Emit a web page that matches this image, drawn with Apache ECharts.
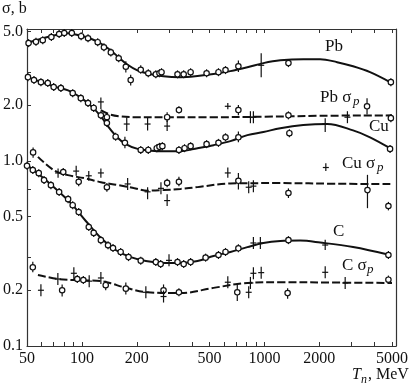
<!DOCTYPE html>
<html><head><meta charset="utf-8">
<script src="https://cdn.jsdelivr.net/npm/echarts@6/dist/echarts.min.js"></script>
<style>html,body{margin:0;padding:0;background:#fff}#c{width:415px;height:388px}</style>
</head><body><div id="c"></div>
<script>
// ---- axis ticks / labels ----
const xTickValues = [50,60,70,80,90,100,200,300,400,500,600,700,800,900,1000,2000,3000,4000,5000];
const xLabelValues = [50,100,200,500,1000,2000,5000];
const yTickValues = [0.1,0.2,0.3,0.5,0.7,1,2,3,5];
const yLabelValues = [0.1,0.2,0.5,1,2,5];
const yLabelTexts = ['0.1','0.2','0.5','1.0','2.0','5.0'];

// ---- fitted curves [T (MeV), sigma (b)] ----
const pbCurve = [[50,4.32],[61,4.59],[75,4.83],[84,4.89],[99,4.73],[112,4.56],[127,4.30],[144,3.94],[159,3.62],[178,3.30],[200,3.09],[229,2.96],[280,2.86],[347,2.83],[430,2.87],[526,2.94],[651,3.05],[806,3.20],[987,3.37],[1222,3.49],[1632,3.54],[2022,3.54],[2503,3.41],[3061,3.24],[3791,3.01],[4880,2.66]];
const pbSpCurve = [[127,1.88],[140,1.79],[160,1.74],[200,1.72],[300,1.72],[500,1.72],[1000,1.73],[2000,1.75],[5000,1.76]];
const cuCurve = [[50,2.83],[60,2.66],[70,2.52],[84,2.40],[98,2.20],[112,1.98],[127,1.74],[140,1.52],[155,1.35],[172,1.24],[202,1.16],[240,1.135],[280,1.128],[347,1.128],[430,1.17],[526,1.215],[651,1.277],[806,1.376],[987,1.43],[1222,1.50],[1632,1.56],[2208,1.58],[3061,1.46],[3791,1.34],[4880,1.17]];
const cuSpCurve = [[57.4,1.05],[70.2,0.89],[83.8,0.837],[102.4,0.807],[127,0.767],[157,0.740],[192,0.713],[229,0.690],[280,0.695],[347,0.705],[430,0.721],[651,0.755],[1222,0.758],[2500,0.752],[5000,0.749]];
const cCurve = [[50,0.948],[59.6,0.827],[72,0.704],[87,0.591],[105,0.473],[127,0.383],[153,0.330],[185,0.302],[224,0.288],[280,0.281],[347,0.281],[430,0.288],[526,0.306],[651,0.322],[806,0.342],[987,0.360],[1222,0.369],[1570,0.371],[2022,0.362],[3061,0.342],[4880,0.310]];
const cSpCurve = [[57.4,0.242],[73.8,0.230],[90.3,0.227],[127,0.224],[144,0.218],[169,0.208],[229,0.195],[347,0.193],[526,0.206],[806,0.219],[1222,0.221],[2500,0.220],[5000,0.219]];

// ---- measured points [T, sigma, (low), (high)] ----
const pbCircles = [[51,4.32],[56,4.39],[61,4.48],[68,4.66],[75,4.84],[80,4.90],[88,4.90],[99,4.71],[108,4.59],[122,4.37],[132,4.10],[144,3.85],[159,3.58],[174,3.22,3.00,3.45],[185,2.73,2.55,2.92],[210,3.10,2.95,3.28],[231,2.97],[254,2.93],[266,2.97],[273,3.01],[334,2.93],[361,2.93],[394,3.01],[482,2.97],[560,3.01],[612,3.09],[720,3.24,3.02,3.48],[1354,3.37],[4930,2.66]];
const pbCrosses = [[960,3.28,2.83,3.81]];
const pbSpCircles = [[137,1.72,1.65,1.80],[293,1.72,1.62,1.83],[340,1.88,1.80,1.97],[720,1.88,1.76,2.00],[1354,1.76],[3650,1.97,1.78,2.18],[4930,1.70]];
const pbSpCrosses = [[127,2.08,1.90,2.20],[176,1.58,1.45,1.72],[229,1.58,1.46,1.72],[293,1.54,1.45,1.65],[630,1.97,1.90,2.05],[838,1.72],[870,1.72],[2850,1.72]];
const cuCircles = [[50.6,2.83],[54.6,2.73],[59.6,2.66],[65,2.63],[70,2.50],[76.7,2.47],[89,2.32],[98.6,2.18],[108,2.05],[116,1.93],[127,1.76],[137,1.60],[153,1.35],[172,1.25,1.17,1.35],[210,1.145],[231,1.145],[257,1.17],[266,1.19],[276,1.20],[340,1.145],[365,1.17],[394,1.20],[482,1.23],[560,1.25],[612,1.34],[720,1.34,1.26,1.44],[1370,1.41],[4880,1.16]];
const cuCrosses = [[2153,1.58,1.43,1.70]];
const cuSpCircles = [[54,1.11,1.04,1.18],[79,0.87],[96,0.77,0.73,0.81],[137,0.72,0.68,0.76],[293,0.76,0.72,0.80],[340,0.77,0.73,0.82],[720,0.78,0.70,0.86],[1354,0.67,0.63,0.71],[3670,0.695,0.555,0.84],[4780,0.57,0.54,0.60]];
const cuSpCrosses = [[74,0.86,0.81,0.91],[93,0.88,0.83,0.94],[109,0.83,0.78,0.88],[127,0.86,0.81,0.91],[178,0.75],[229,0.68,0.62,0.72],[271,0.71],[293,0.61,0.57,0.66],[630,0.86,0.81,0.92],[820,0.72],[870,0.73],[2170,0.92,0.88,0.97]];
const cCircles = [[50,0.94],[53.8,0.891],[58,0.858],[62,0.787],[67.6,0.739],[75,0.678],[84,0.621],[89,0.576],[96,0.529],[109,0.439],[116,0.408],[127,0.373],[139,0.350],[148,0.338],[163,0.322],[180,0.302],[210,0.289],[254,0.284],[270,0.277],[334,0.284],[361,0.277],[394,0.284],[476,0.300],[560,0.310],[612,0.322],[720,0.337],[1354,0.373],[4780,0.310]];
const cCrosses = [[300,0.290],[870,0.360],[950,0.360],[2153,0.351,0.330,0.375]];
const cSpCircles = [[53.8,0.266,0.250,0.285],[77.9,0.200,0.185,0.215],[94.3,0.230],[101.8,0.227],[135,0.213,0.200,0.225],[174,0.204,0.190,0.220],[280,0.200,0.190,0.215],[340,0.195],[710,0.195,0.175,0.215],[1340,0.193,0.180,0.205],[4780,0.228,0.218,0.240]];
const cSpCrosses = [[59.6,0.200],[73.8,0.230],[90.3,0.247],[109.6,0.224],[127,0.233],[224,0.195],[280,0.185],[630,0.221],[820,0.195],[838,0.219],[870,0.247],[960,0.249],[2153,0.250],[2770,0.219]];

const INK = '#111';
const SERIF = '"Liberation Serif","DejaVu Serif",serif';

function curve(data, dashed) {
  return {type:'line', data:data, smooth:0.35, symbol:'none', showSymbol:false, silent:true, animation:false, z:2,
    lineStyle:{color:INK, width:2, type: dashed ? [8,3] : 'solid'}};
}
function points(data, kind) {
  return {type:'custom', animation:false, silent:true, z:3, clip:false,
    dimensions:['x','y','lo','hi'], encode:{x:0, y:1},
    data: data.map(d => [d[0], d[1], d.length > 2 ? d[2] : 0, d.length > 3 ? d[3] : 0]),
    renderItem: function (params, api) {
      const T = api.value(0), s = api.value(1), lo = api.value(2), hi = api.value(3);
      const p = api.coord([T, s]);
      const half = kind === 'c' ? 4 : 6;
      let yTop = p[1] - half, yBot = p[1] + half;
      if (lo > 0 && hi > 0) { yTop = api.coord([T, hi])[1]; yBot = api.coord([T, lo])[1]; }
      const st = {stroke:INK, lineWidth:1.2};
      const ch = [{type:'line', shape:{x1:p[0], y1:yTop, x2:p[0], y2:yBot}, style:st}];
      if (kind === 'c') ch.push({type:'circle', shape:{cx:p[0], cy:p[1], r:2.7}, style:{fill:'#fff', stroke:INK, lineWidth:1.2}});
      else ch.push({type:'line', shape:{x1:p[0]-3, y1:p[1], x2:p[0]+3, y2:p[1]}, style:st});
      return {type:'group', children:ch};
    }};
}
function yFmt(v) {
  let best = 0, bd = Infinity;
  yLabelValues.forEach((y, i) => { const d = Math.abs(Math.log(v / y)); if (d < bd) { bd = d; best = i; } });
  return yLabelTexts[best];
}
function xFmt(v) { return String(Math.round(v)); }

const axisLine = {show:true, lineStyle:{color:'#333', width:1.2}};
const tickStyle = {color:'#333', width:1};
const chart = echarts.init(document.getElementById('c'), null, {renderer:'canvas'});
chart.setOption({
  animation:false,
  backgroundColor:'#fff',
  grid:{left:26, right:19, top:29, bottom:42},
  xAxis:[
    {type:'log', logBase:10, min:50, max:5260, position:'bottom', axisLine:axisLine,
     axisTick:{show:true, inside:true, length:4, customValues:xTickValues, lineStyle:tickStyle},
     axisLabel:{show:true, customValues:xLabelValues, formatter:xFmt, fontFamily:SERIF, fontSize:16, color:INK, margin:5},
     splitLine:{show:false}, minorTick:{show:false}},
    {type:'log', logBase:10, min:50, max:5260, position:'top', axisLine:axisLine,
     axisTick:{show:true, inside:true, length:4, customValues:xTickValues, lineStyle:tickStyle},
     axisLabel:{show:false}, splitLine:{show:false}}
  ],
  yAxis:[
    {type:'log', logBase:10, min:0.1, max:5.15, position:'left', axisLine:axisLine,
     axisTick:{show:true, inside:true, length:4, customValues:yTickValues, lineStyle:tickStyle},
     axisLabel:{show:true, customValues:yLabelValues, formatter:yFmt, fontFamily:SERIF, fontSize:16, color:INK, margin:4},
     splitLine:{show:false}},
    {type:'log', logBase:10, min:0.1, max:5.15, position:'right', axisLine:axisLine,
     axisTick:{show:false}, axisLabel:{show:false}, splitLine:{show:false}}
  ],
  series:[
    curve(pbCurve,false), curve(pbSpCurve,true), curve(cuCurve,false), curve(cuSpCurve,true), curve(cCurve,false), curve(cSpCurve,true),
    points(pbCircles,'c'), points(pbCrosses,'x'), points(pbSpCircles,'c'), points(pbSpCrosses,'x'),
    points(cuCircles,'c'), points(cuCrosses,'x'), points(cuSpCircles,'c'), points(cuSpCrosses,'x'),
    points(cCircles,'c'), points(cCrosses,'x'), points(cSpCircles,'c'), points(cSpCrosses,'x')
  ],
  graphic:[
    {type:'text', left:2, top:1, style:{text:'σ, b', font:'16px ' + SERIF, fill:INK}},
    {type:'text', x:325, y:47, style:{text:'Pb', font:'17px ' + SERIF, fill:INK, verticalAlign:'middle'}},
    {type:'text', x:320, y:98, style:{text:'Pb σ', font:'17px ' + SERIF, fill:INK, verticalAlign:'middle'}},
    {type:'text', x:353, y:102, style:{text:'p', font:'italic 13px ' + SERIF, fill:INK, verticalAlign:'middle'}},
    {type:'text', x:369, y:127, style:{text:'Cu', font:'17px ' + SERIF, fill:INK, verticalAlign:'middle'}},
    {type:'text', x:342, y:164, style:{text:'Cu σ', font:'17px ' + SERIF, fill:INK, verticalAlign:'middle'}},
    {type:'text', x:377, y:168, style:{text:'p', font:'italic 13px ' + SERIF, fill:INK, verticalAlign:'middle'}},
    {type:'text', x:333, y:232, style:{text:'C', font:'17px ' + SERIF, fill:INK, verticalAlign:'middle'}},
    {type:'text', x:342, y:266, style:{text:'C σ', font:'17px ' + SERIF, fill:INK, verticalAlign:'middle'}},
    {type:'text', x:367, y:270, style:{text:'p', font:'italic 13px ' + SERIF, fill:INK, verticalAlign:'middle'}},
    {type:'text', x:352, y:375, style:{text:'T', font:'italic 16px ' + SERIF, fill:INK, verticalAlign:'middle'}},
    {type:'text', x:361, y:380, style:{text:'n', font:'italic 12px ' + SERIF, fill:INK, verticalAlign:'middle'}},
    {type:'text', x:368, y:375, style:{text:', MeV', font:'16px ' + SERIF, fill:INK, verticalAlign:'middle'}}
  ]
});
</script></body></html>
